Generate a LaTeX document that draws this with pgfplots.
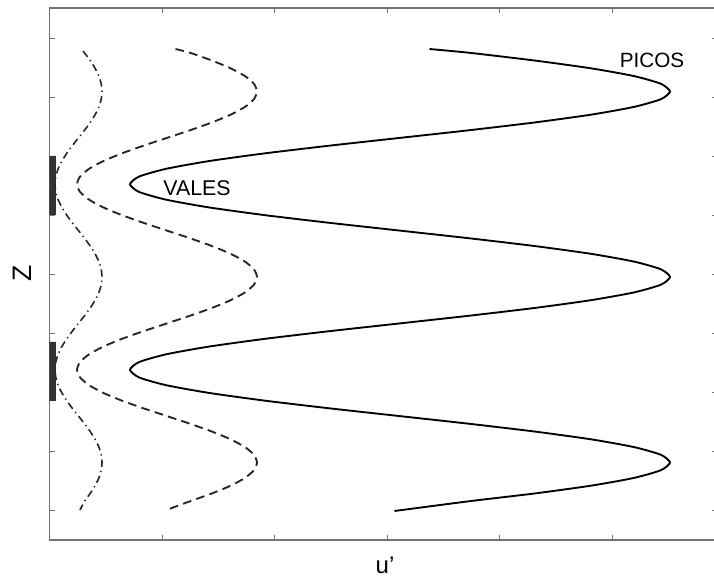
\documentclass[border=0pt]{standalone}
\usepackage{pgfplots}
\pgfplotsset{compat=1.18}
\usepackage{fontspec}
\setmainfont{Liberation Sans}

\begin{document}
\begin{tikzpicture}
\begin{axis}[
  x=0.75pt, y=0.75pt,
  xmin=0, xmax=668, ymin=0, ymax=532,
  axis line style={black!55, line width=0.8pt},
  xtick={112.5,225,337.5,450,562.5},
  ytick={30,89,148,207,266,325,384,443,502},
  xticklabels={}, yticklabels={},
  tick align=inside,
  major tick length=4pt,
  tick style={black!55, line width=0.6pt},
  clip=false,
  xlabel={u’},
  ylabel={Z},
  xlabel style={at={(axis cs:335.5,-25)}, anchor=center, font=\fontsize{18}{20}\selectfont},
  ylabel style={at={(axis cs:-27.5,267)}, anchor=center, font=\fontsize{20}{22}\selectfont},
]
% wall segments
\addplot[fill=black!80, draw=none] coordinates {(0,325) (6.5,325) (6.5,384) (0,384) (0,325)};
\addplot[fill=black!80, draw=none] coordinates {(0,139) (6.5,139) (6.5,198) (0,198) (0,139)};

% solid profile
\addplot[black, line width=1.4pt, smooth, tension=0.4] coordinates {
(380,491)
(420.4,487.15)(485.5,479.42)(541.4,471.69)(584.3,463.96)(611.3,456.23)(620.5,448.5)
(611.3,440.77)(584.3,433.04)(541.4,425.31)(485.5,417.58)(420.4,409.85)(350.5,402.12)(280.6,394.40)(215.5,386.67)(159.6,378.94)(116.7,371.21)(89.7,363.48)(80.5,355.75)
(89.7,348.02)(116.7,340.29)(159.6,332.56)(215.5,324.83)(280.6,317.10)(350.5,309.38)(420.4,301.65)(485.5,293.92)(541.4,286.19)(584.3,278.46)(611.3,270.73)(620.5,263)
(611.3,255.27)(584.3,247.54)(541.4,239.81)(485.5,232.08)(420.4,224.35)(350.5,216.62)(280.6,208.90)(215.5,201.17)(159.6,193.44)(116.7,185.71)(89.7,177.98)(80.5,170.25)
(89.7,162.52)(116.7,154.79)(159.6,147.06)(215.5,139.33)(280.6,131.60)(350.5,123.88)(420.4,116.15)(485.5,108.42)(541.4,100.69)(584.3,92.96)(611.3,85.23)(620.5,77.5)
(611.3,69.77)(584.3,62.04)(541.4,54.31)(485.5,46.58)(420.4,38.85)
(345,29)
};

% dashed profile
\addplot[black!85, line width=1.4pt, smooth, tension=0.4, dash pattern=on 6.5pt off 4pt] coordinates {
(126,491)
(140.8,487.15)(162.5,479.42)(181.1,471.69)(195.4,463.96)(204.4,456.23)(207.5,448.5)
(204.4,440.77)(195.4,433.04)(181.1,425.31)(162.5,417.58)(140.8,409.85)(117.5,402.12)(94.2,394.40)(72.5,386.67)(53.9,378.94)(39.6,371.21)(30.6,363.48)(27.5,355.75)
(30.6,348.02)(39.6,340.29)(53.9,332.56)(72.5,324.83)(94.2,317.10)(117.5,309.38)(140.8,301.65)(162.5,293.92)(181.1,286.19)(195.4,278.46)(204.4,270.73)(207.5,263)
(204.4,255.27)(195.4,247.54)(181.1,239.81)(162.5,232.08)(140.8,224.35)(117.5,216.62)(94.2,208.90)(72.5,201.17)(53.9,193.44)(39.6,185.71)(30.6,177.98)(27.5,170.25)
(30.6,162.52)(39.6,154.79)(53.9,147.06)(72.5,139.33)(94.2,131.60)(117.5,123.88)(140.8,116.15)(162.5,108.42)(181.1,100.69)(195.4,92.96)(204.4,85.23)(207.5,77.5)
(204.4,69.77)(195.4,62.04)(181.1,54.31)(162.5,46.58)(140.8,38.85)
(117,30)
};

% dash-dotted profile
\addplot[black!85, line width=1.2pt, smooth, tension=0.4, dash pattern=on 5.5pt off 3pt on 1pt off 3pt] coordinates {
(33.5,489)
(40.75,479.42)(45.6,471.69)(49.4,463.96)(51.7,456.23)(52.5,448.5)
(51.7,440.77)(49.4,433.04)(45.6,425.31)(40.75,417.58)(35.1,409.85)(29,402.12)(22.9,394.40)(17.25,386.67)(12.4,378.94)(8.65,371.21)(6.3,363.48)(5.5,355.75)
(6.3,348.02)(8.65,340.29)(12.4,332.56)(17.25,324.83)(22.9,317.10)(29,309.38)(35.1,301.65)(40.75,293.92)(45.6,286.19)(49.4,278.46)(51.7,270.73)(52.5,263)
(51.7,255.27)(49.4,247.54)(45.6,239.81)(40.75,232.08)(35.1,224.35)(29,216.62)(22.9,208.90)(17.25,201.17)(12.4,193.44)(8.65,185.71)(6.3,177.98)(5.5,170.25)
(6.3,162.52)(8.65,154.79)(12.4,147.06)(17.25,139.33)(22.9,131.60)(29,123.88)(35.1,116.15)(40.75,108.42)(45.6,100.69)(49.4,92.96)(51.7,85.23)(52.5,77.5)
(51.7,69.77)(49.4,62.04)(45.6,54.31)(40.75,46.58)(35.1,38.85)
(30.5,30)
};

\node[font=\fontsize{16}{18}\selectfont] at (axis cs:147.5,352) {VALES};
\node[font=\fontsize{15.5}{17}\selectfont] at (axis cs:602.5,480) {PICOS};

\coordinate (bbSW) at (axis cs:-49.5,-38);
\coordinate (bbNE) at (axis cs:664.5,540);
\end{axis}
\pgfresetboundingbox
\path[use as bounding box] (bbSW) rectangle (bbNE);
\end{tikzpicture}
\end{document}
